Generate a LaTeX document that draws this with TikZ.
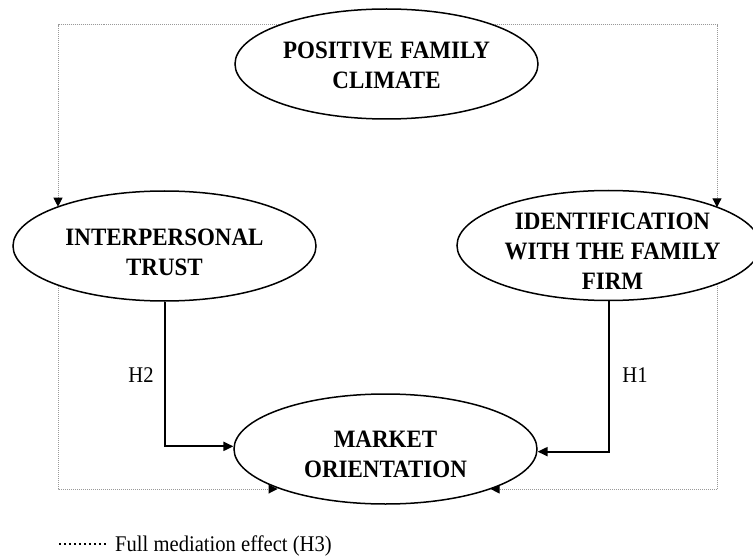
\documentclass[tikz,border=0pt]{standalone}
\usepackage{fontspec}
\setmainfont{Liberation Serif}[FakeStretch=0.92]
\usetikzlibrary{arrows.meta,backgrounds,shapes.geometric}
\begin{document}
\begin{tikzpicture}[x=1pt,y=-1pt,
  oval/.style={ellipse, draw=black, line width=1.5pt, fill=white,
    minimum width=303pt, minimum height=110pt, inner sep=0pt},
  ttl/.style={font=\bfseries\fontsize{25}{30}\selectfont, align=center, inner sep=0pt},
  lbl/.style={font=\fontsize{22.4}{26}\selectfont, inner sep=0pt},
  med/.style={draw=black!40, line width=1pt, dash pattern=on 1pt off 1pt,
    -{Triangle[width=9pt,length=9pt,color=black]}},
  hyp/.style={draw=black, line width=2pt, -{Triangle[width=9pt,length=10pt]}},
  legline/.style={draw=black, line width=1.5pt, dash pattern=on 1.5pt off 3.5pt}]
\useasboundingbox (0,0) rectangle (753,559);

% ovals
\node[oval] (pfc) at (386.5,64) {};
\node[oval] (it) at (164.5,246) {};
\node[oval] (id) at (608.5,245.5) {};
\node[oval] (mo) at (385.5,449) {};

% oval texts
\node[ttl] (pfct) at (386.5,65) {POSITIVE\hspace{0.3em}FAMILY\\CLIMATE};
\node[ttl] (itt) at (164.5,252) {INTERPERSONAL\\TRUST};
\node[ttl] (idt) at (612.5,251) {IDENTIFICATION\\WITH\hspace{0.25em}THE\hspace{0.25em}FAMILY\\FIRM};
\node[ttl] (mot) at (385.5,454) {MARKET\\ORIENTATION};

% corners of the mediation paths
\coordinate (tl) at (58,25);
\coordinate (tr) at (717,25);
\coordinate (bl) at (58,489);
\coordinate (br) at (717,489);

\begin{scope}[on background layer]
  \draw[med] (pfc.center |- tl) -- (tl) -- (tl |- it.160);
  \draw[med] (pfc.center |- tr) -- (tr) -- (tr |- id.19.3);
  \draw[med] (tl |- it.center) -- (bl) -- (mo.200.2 |- bl);
  \draw[med] (tr |- id.center) -- (br) -- (mo.339.8 |- br);
\end{scope}

% direct hypotheses
\draw[hyp] (it.south) |- (mo.179);
\draw[hyp] (id.south) |- (mo.-1);
\node[lbl] (h2) at (141,375) {H2};
\node[lbl] (h1) at (635,375) {H1};

% legend
\coordinate (lg1) at (59,544);
\coordinate (lg2) at (106,544);
\draw[legline] (lg1) -- (lg2);
\node[lbl, anchor=base west] (cap) at (115,551) {Full mediation effect (H3)};
\end{tikzpicture}
\end{document}
